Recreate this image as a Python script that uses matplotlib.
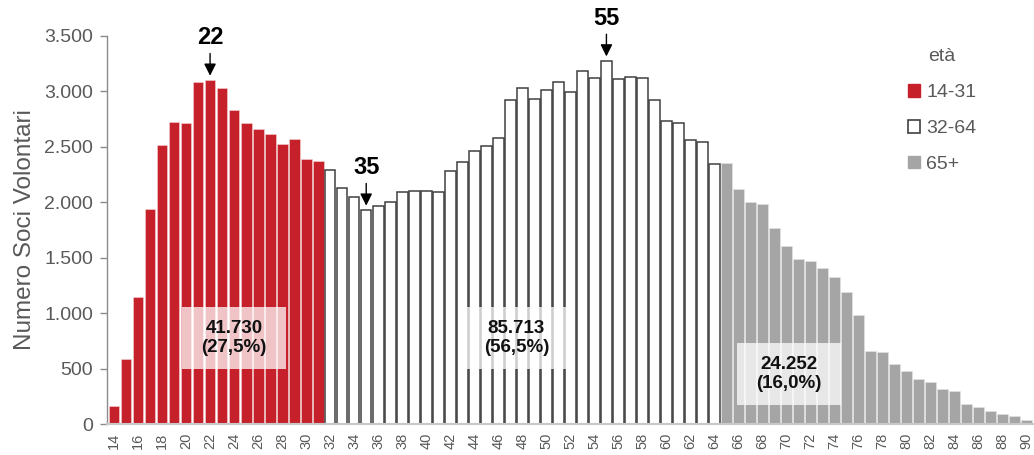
import numpy as np
import matplotlib
matplotlib.use("Agg")
import matplotlib.pyplot as plt
from matplotlib.patches import Patch, Rectangle
from matplotlib.ticker import FuncFormatter

plt.rcParams['font.family'] = ['Liberation Sans', 'DejaVu Sans']

# volunteer members by age, split in three age bands
ages_young = list(range(14, 32))
count_young = [159, 589, 1142, 1941, 2521, 2728, 2713, 3086, 3104, 3032,
               2828, 2716, 2662, 2617, 2527, 2575, 2392, 2371]

ages_adult = list(range(32, 65))
count_adult = [2287, 2130, 2046, 1932, 1965, 2001, 2091, 2103, 2103, 2091,
               2278, 2362, 2467, 2506, 2581, 2924, 3032, 2933, 3014, 3089,
               2993, 3182, 3119, 3278, 3113, 3128, 3119, 2924, 2737, 2716,
               2566, 2542, 2341]

ages_senior = list(range(65, 91))
count_senior = [2356, 2124, 2001, 1986, 1770, 1608, 1484, 1466, 1406, 1328,
                1187, 980, 655, 649, 541, 481, 409, 376, 319, 297,
                177, 150, 120, 90, 72, 39]

band_labels = ['14-31', '32-64', '65+']
band_totals = ['41.730', '85.713', '24.252']
band_shares = ['27,5%', '56,5%', '16,0%']
# where the total boxes sit (age, members)
box_ages = [24, 47.5, 70.2]
box_levels = [772, 772, 448]

peak_ages = [22, 35, 55]

RED = '#C6202B'
GREY = '#A5A5A5'
DARK = '#404040'
TXT = '#595959'

fig = plt.figure(figsize=(10.34, 4.55), dpi=100)
ax = fig.add_axes([0.1035, 0.0681, 0.8965, 0.8528])

ax.bar(ages_young, count_young, width=0.9, color=RED, edgecolor='#F3D5D5', linewidth=0.4)
ax.bar(ages_adult, count_adult, width=0.88, color='white', edgecolor=DARK, linewidth=1.1)
ax.bar(ages_senior, count_senior, width=0.9, color=GREY, edgecolor='#E6E6E6', linewidth=0.4)

ax.set_xlim(13.42, 90.6)
ax.set_ylim(0, 3500)
ax.set_yticks(np.arange(0, 3501, 500))
ax.yaxis.set_major_formatter(FuncFormatter(lambda v, p: f'{int(v):,}'.replace(',', '.')))
ax.set_xticks(list(range(14, 91, 2)))
ax.tick_params(axis='x', length=0, labelrotation=90, labelsize=10.5, labelcolor=TXT, pad=6)
ax.tick_params(axis='y', length=5, width=1, color='#8C8C8C', labelsize=14, labelcolor=TXT, pad=5)
ax.set_ylabel('Numero Soci Volontari', fontsize=17.5, color=TXT, labelpad=6)

for s in ['top', 'right']:
    ax.spines[s].set_visible(False)
ax.spines['left'].set_color('#8C8C8C')
ax.spines['left'].set_linewidth(1)
ax.spines['bottom'].set_color('#C8C8C8')
ax.spines['bottom'].set_linewidth(1.5)

# totals per band in semi-transparent boxes
for a, lv, tot, sh in zip(box_ages, box_levels, band_totals, band_shares):
    ax.add_patch(Rectangle((a - 4.3, lv - 280), 8.6, 560, facecolor='white',
                           alpha=0.74, edgecolor='none', zorder=3))
    ax.text(a, lv, f'{tot}\n({sh})', ha='center', va='center', fontsize=13.5,
            fontweight='bold', color='#111111', linespacing=1.15, zorder=4)

# peak / dip markers
all_ages = ages_young + ages_adult + ages_senior
all_counts = count_young + count_adult + count_senior
for pa in peak_ages:
    val = all_counts[all_ages.index(pa)]
    ax.annotate(str(pa), xy=(pa, val), xytext=(0, 22), textcoords='offset points',
                ha='center', va='bottom', fontsize=17, fontweight='bold',
                arrowprops=dict(arrowstyle='-|>', color='black', lw=1,
                                mutation_scale=18, shrinkA=1, shrinkB=3))

handles = [Patch(facecolor=RED, edgecolor=RED),
           Patch(facecolor='white', edgecolor=DARK, linewidth=1.2),
           Patch(facecolor=GREY, edgecolor=GREY)]
leg = ax.legend(handles, band_labels, title='età', loc='upper left',
                bbox_to_anchor=(0.845, 1.013), frameon=False, fontsize=14,
                title_fontsize=14, handlelength=0.65, handleheight=0.65,
                handletextpad=0.3, labelspacing=0.95)
for t in leg.get_texts():
    t.set_color(TXT)
leg.get_title().set_color(TXT)

fig.savefig('out.png', dpi=100)
